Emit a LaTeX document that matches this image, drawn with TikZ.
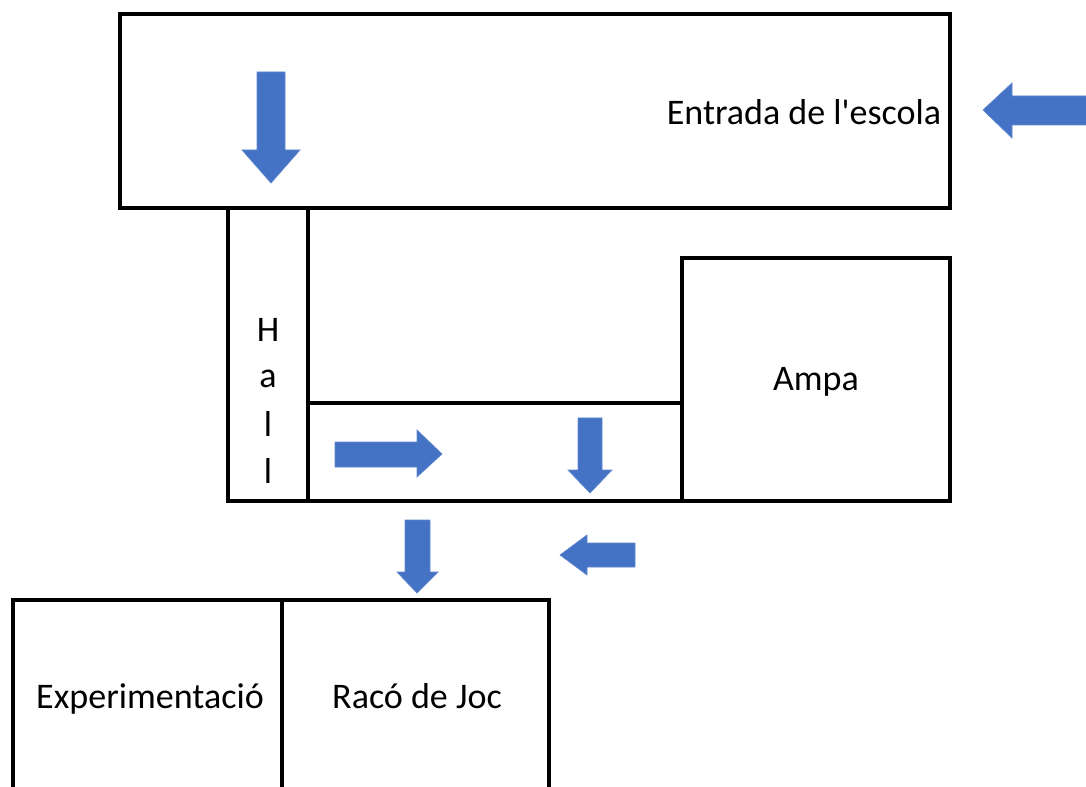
\documentclass[tikz,border=0pt]{standalone}
\usepackage{fontspec}
\setmainfont{Carlito}
\definecolor{arrowblue}{HTML}{4472C4}
\begin{document}
\begin{tikzpicture}[x=0.02cm,y=-0.02cm,
  wall/.style={draw=black,line width=2.4pt,line join=miter},
  blockarrow/.style={fill=arrowblue,draw=arrowblue!85!white,line width=0.4pt},
  label/.style={inner sep=0pt,anchor=base,font=\fontsize{20.5}{22}\selectfont}]
\useasboundingbox (0,0) rectangle (1086,787);
% rooms
\draw[wall] (120,14) rectangle (950,208);
\draw[wall] (228,208) rectangle (308,501);
\draw[wall] (308,403) rectangle (682,501);
\draw[wall] (682,258) rectangle (950,501);
\draw[wall] (13,600) rectangle (282,800);
\draw[wall] (282,600) rectangle (549,800);
% labels
\node[label] (entrada) at (804,125) {Entrada de l\textquotesingle escola};
\node[label] (ampa) at (816,391) {Ampa};
\node[label] (h1) at (268,342) {H};
\node[label] (h2) at (268,388) {a};
\node[label] (h3) at (268,437) {l};
\node[label] (h4) at (268,483) {l};
\node[label] (exp) at (150,708) {Experimentació};
\node[label] (raco) at (417,708) {Racó de Joc};
% arrows
\fill[blockarrow] (257,72) -- (285,72) -- (285,150) -- (300,150) -- (271,183) -- (242,150) -- (257,150) -- cycle;
\fill[blockarrow] (1095,96) -- (1012,96) -- (1012,83) -- (983,110) -- (1012,138) -- (1012,125) -- (1095,125) -- cycle;
\fill[blockarrow] (335,442) -- (417,442) -- (417,430) -- (442,454) -- (417,477) -- (417,467) -- (335,467) -- cycle;
\fill[blockarrow] (578,418) -- (602,418) -- (602,470) -- (612,470) -- (590,493) -- (568,470) -- (578,470) -- cycle;
\fill[blockarrow] (405,520) -- (430,520) -- (430,572) -- (438,572) -- (417,593) -- (397,572) -- (405,572) -- cycle;
\fill[blockarrow] (635,543) -- (587,543) -- (587,535) -- (560,555) -- (587,575) -- (587,567) -- (635,567) -- cycle;
\end{tikzpicture}
\end{document}
